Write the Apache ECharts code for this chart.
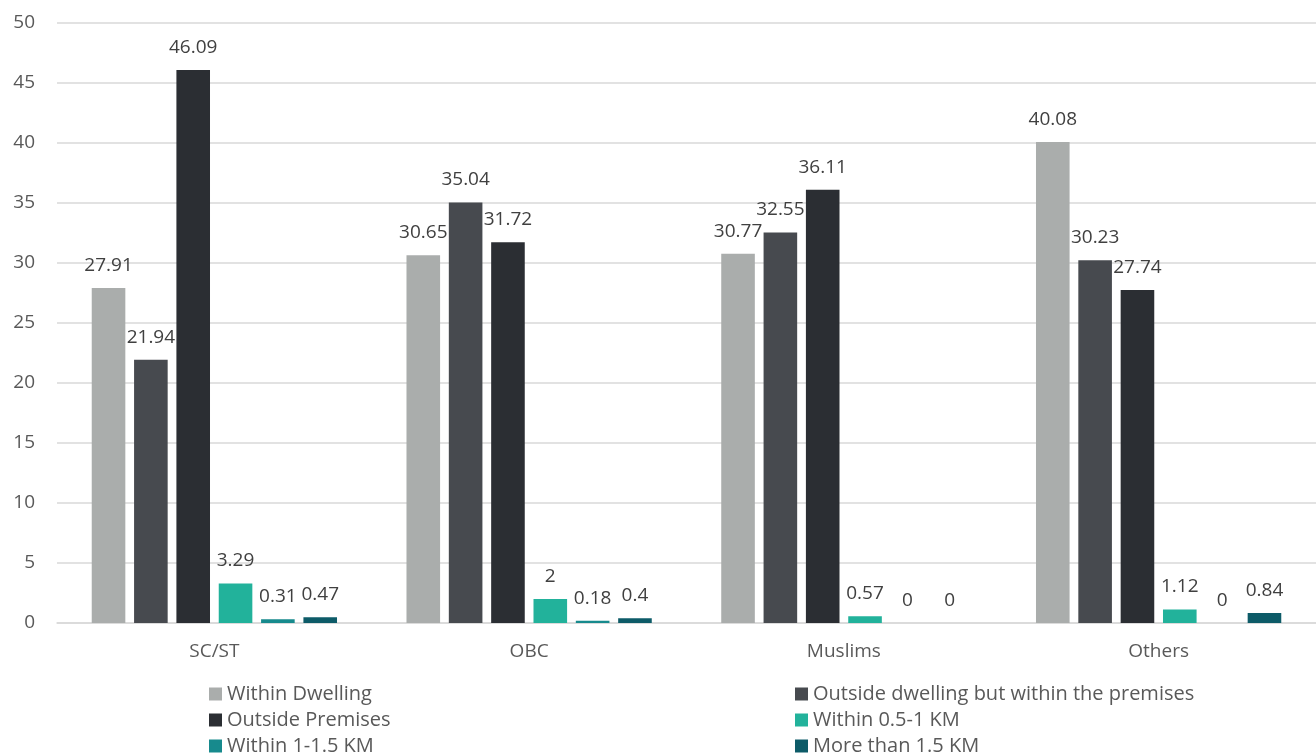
<!DOCTYPE html>
<html>
<head>
<meta charset="utf-8">
<script src="https://cdn.jsdelivr.net/npm/echarts@6/dist/echarts.min.js"></script>
<style>
  html, body { margin: 0; padding: 0; background: #ffffff; }
  #chart { width: 1316px; height: 756px; }
</style>
</head>
<body>
<div id="chart"></div>
<script>
// Distance to drinking-water source by social group (%)
const categories = ['SC/ST', 'OBC', 'Muslims', 'Others'];
const seriesNames = [
  'Within Dwelling',
  'Outside dwelling but within the premises',
  'Outside Premises',
  'Within 0.5-1 KM',
  'Within 1-1.5 KM',
  'More than 1.5 KM'
];
const withinDwelling   = [27.91, 30.65, 30.77, 40.08];
const outsideDwelling  = [21.94, 35.04, 32.55, 30.23];
const outsidePremises  = [46.09, 31.72, 36.11, 27.74];
const within05to1      = [3.29, 2, 0.57, 1.12];
const within1to15      = [0.31, 0.18, 0, 0];
const moreThan15       = [0.47, 0.4, 0, 0.84];
const yTicks = [0, 5, 10, 15, 20, 25, 30, 35, 40, 45, 50];

const values = [withinDwelling, outsideDwelling, outsidePremises, within05to1, within1to15, moreThan15];
const colors = ['#AAADAC', '#474A4F', '#2B2E33', '#22B29B', '#178A8D', '#0D5B68'];

const FONT = '"Open Sans", "Noto Sans", sans-serif';
const FS = 19;

const chart = echarts.init(document.getElementById('chart'), null, { renderer: 'canvas' });

const series = seriesNames.map((name, i) => ({
  name: name,
  type: 'bar',
  data: values[i],
  barWidth: 33.6,
  barGap: '26%',
  itemStyle: { color: colors[i] },
  label: {
    show: true,
    position: 'top',
    distance: 13,
    color: '#404040',
    fontSize: FS,
    fontFamily: FONT
  }
}));

// Two-column legend, filled row by row (one legend component per entry)
const legendText = { color: '#595959', fontSize: 20, fontFamily: FONT, lineHeight: 20 };
const legends = seriesNames.map((name, i) => ({
  orient: 'horizontal',
  left: i % 2 === 0 ? 209 : 795,
  top: 684 + Math.floor(i / 2) * 26,
  itemWidth: 13,
  itemHeight: 13,
  itemGap: 0,
  icon: 'rect',
  data: [name],
  textStyle: legendText,
  padding: 0
}));

chart.setOption({
  animation: false,
  grid: { left: 57, right: 0, top: 23, bottom: 133, containLabel: false },
  xAxis: {
    type: 'category',
    data: categories,
    axisLine: { show: true, lineStyle: { color: '#D9D9D9', width: 1.5 } },
    axisTick: { show: false },
    axisLabel: { color: '#595959', fontSize: FS, fontFamily: FONT, margin: 19 }
  },
  yAxis: {
    type: 'value',
    min: yTicks[0],
    max: yTicks[yTicks.length - 1],
    interval: yTicks[1] - yTicks[0],
    axisLine: { show: false },
    axisTick: { show: false },
    axisLabel: { color: '#595959', fontSize: FS, fontFamily: FONT, margin: 22 },
    splitLine: { lineStyle: { color: '#D9D9D9', width: 1.5 } }
  },
  legend: legends,
  series: series
});
</script>
</body>
</html>
